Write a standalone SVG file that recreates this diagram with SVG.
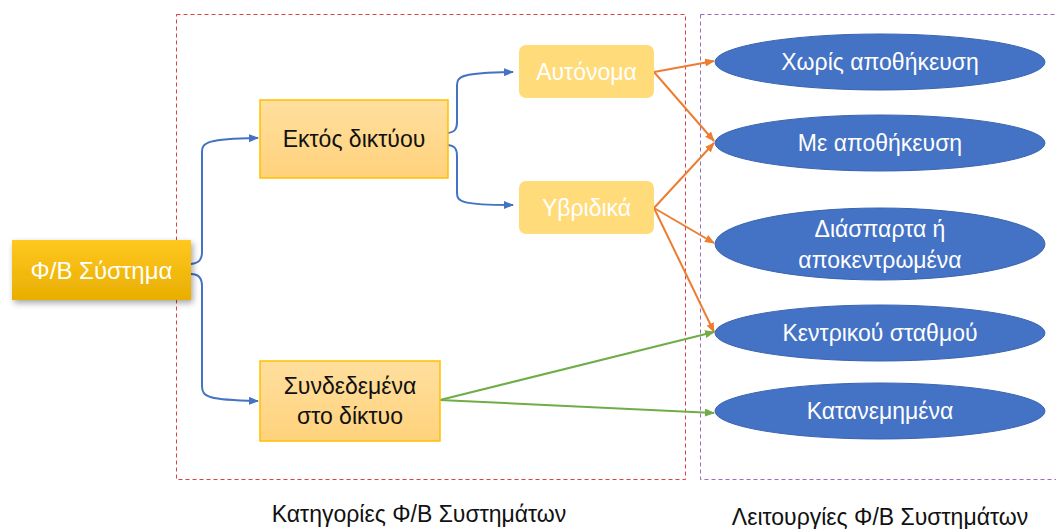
<svg xmlns="http://www.w3.org/2000/svg" width="1056" height="529" viewBox="0 0 1056 529">
  <style>
    .t { font-family: "Liberation Sans", Arial, sans-serif; font-size: 23px; text-anchor: middle; dominant-baseline: central; }
    .w { fill: #ffffff; }
    .k { fill: #111111; }
    .lbl { font-family: "Liberation Sans", Arial, sans-serif; font-size: 23px; text-anchor: middle; fill: #111111; }
    .blue { fill: none; stroke: #4472C4; stroke-width: 2; marker-end: url(#ab); }
    .org { fill: none; stroke: #ED7D31; stroke-width: 2; marker-end: url(#ao); }
    .grn { fill: none; stroke: #70AD47; stroke-width: 2; marker-end: url(#ag); }
    .ell { fill: #4472C4; stroke: #3A64B0; stroke-width: 1; }
    .lt { fill: url(#gl); stroke: #FFC000; stroke-width: 1.5; }
    .yl { fill: #FFDB7A; }
  </style>
  <defs>
    <linearGradient id="gmain" x1="0" y1="0" x2="0" y2="1">
      <stop offset="0" stop-color="#FFC820"/>
      <stop offset="1" stop-color="#E8AE00"/>
    </linearGradient>
    <linearGradient id="gl" x1="0" y1="0" x2="0" y2="1">
      <stop offset="0" stop-color="#FFDF9E"/>
      <stop offset="1" stop-color="#FFD27C"/>
    </linearGradient>
    <filter id="sh" x="-20%" y="-30%" width="150%" height="170%">
      <feDropShadow dx="2" dy="3" stdDeviation="3" flood-color="#000" flood-opacity="0.35"/>
    </filter>
    <marker id="ab" markerWidth="10" markerHeight="8" refX="9" refY="4" orient="auto" markerUnits="userSpaceOnUse">
      <path d="M0,0 L10,4 L0,8 z" fill="#4472C4"/>
    </marker>
    <marker id="ao" markerWidth="10" markerHeight="8" refX="9" refY="4" orient="auto" markerUnits="userSpaceOnUse">
      <path d="M0,0 L10,4 L0,8 z" fill="#ED7D31"/>
    </marker>
    <marker id="ag" markerWidth="10" markerHeight="8" refX="9" refY="4" orient="auto" markerUnits="userSpaceOnUse">
      <path d="M0,0 L10,4 L0,8 z" fill="#70AD47"/>
    </marker>
  </defs>

  <rect width="1056" height="529" fill="#ffffff"/>

  <g id="frames">
    <rect x="176.5" y="14.5" width="509" height="465" fill="none" stroke="#E0403F" stroke-width="1" stroke-dasharray="4,3"/>
    <rect x="700.5" y="14.5" width="370" height="465" fill="none" stroke="#9B6BC8" stroke-width="1" stroke-dasharray="4,3"/>
  </g>

  <g id="connectors">
    <path class="blue" d="M191,264 C199,263 202,260 202,252 L202,152 C202,142 208,139 258,138"/>
    <path class="blue" d="M191,274 C199,274 202,278 202,286 L202,386 C202,397 208,400 258,401"/>
    <path class="blue" d="M448,133 C455,132 457,129 457,122 L457,85 C457,76 462,73 513,72"/>
    <path class="blue" d="M448,145 C455,146 457,149 457,156 L457,193 C457,202 462,205 513,205"/>
    <line class="org" x1="654" y1="72" x2="714" y2="61"/>
    <line class="org" x1="654" y1="72" x2="714" y2="141"/>
    <line class="org" x1="654" y1="208" x2="714" y2="143"/>
    <line class="org" x1="654" y1="208" x2="714" y2="243"/>
    <line class="org" x1="654" y1="208" x2="714" y2="332"/>
    <line class="grn" x1="440" y1="400" x2="714" y2="332"/>
    <line class="grn" x1="440" y1="400" x2="714" y2="413"/>
  </g>

  <g id="n-system">
    <rect x="12" y="240" width="179" height="60" fill="url(#gmain)" filter="url(#sh)"/>
    <text class="t w" x="101.5" y="270" style="font-size:24px">Φ/Β Σύστημα</text>
  </g>
  <g id="n-offgrid">
    <rect class="lt" x="260" y="100" width="188" height="78"/>
    <text class="t k" x="354" y="139">Εκτός δικτύου</text>
  </g>
  <g id="n-grid">
    <rect class="lt" x="260" y="361" width="180" height="80"/>
    <text class="t k" x="350" y="386">Συνδεδεμένα</text>
    <text class="t k" x="350" y="416">στο δίκτυο</text>
  </g>
  <g id="n-autonomous">
    <rect class="yl" x="519" y="45" width="135" height="53" rx="7"/>
    <text class="t w" x="586.5" y="72">Αυτόνομα</text>
  </g>
  <g id="n-hybrid">
    <rect class="yl" x="519" y="181" width="135" height="53" rx="7"/>
    <text class="t w" x="586.5" y="208">Υβριδικά</text>
  </g>

  <g id="e-nostorage">
    <ellipse class="ell" cx="880" cy="62" rx="165" ry="28"/>
    <text class="t w" x="880" y="62">Χωρίς αποθήκευση</text>
  </g>
  <g id="e-storage">
    <ellipse class="ell" cx="880" cy="143" rx="165" ry="28"/>
    <text class="t w" x="880" y="143">Με αποθήκευση</text>
  </g>
  <g id="e-distributed">
    <ellipse class="ell" cx="880" cy="244" rx="165" ry="36"/>
    <text class="t w" x="880" y="229">Διάσπαρτα ή</text>
    <text class="t w" x="880" y="260">αποκεντρωμένα</text>
  </g>
  <g id="e-central">
    <ellipse class="ell" cx="880" cy="333" rx="165" ry="28"/>
    <text class="t w" x="880" y="333">Κεντρικού σταθμού</text>
  </g>
  <g id="e-dispersed">
    <ellipse class="ell" cx="880" cy="411" rx="165" ry="28"/>
    <text class="t w" x="880" y="411">Κατανεμημένα</text>
  </g>

  <g id="labels">
    <text class="lbl" x="419" y="522">Κατηγορίες Φ/Β Συστημάτων</text>
    <text class="lbl" x="880" y="525">Λειτουργίες Φ/Β Συστημάτων</text>
  </g>
</svg>
